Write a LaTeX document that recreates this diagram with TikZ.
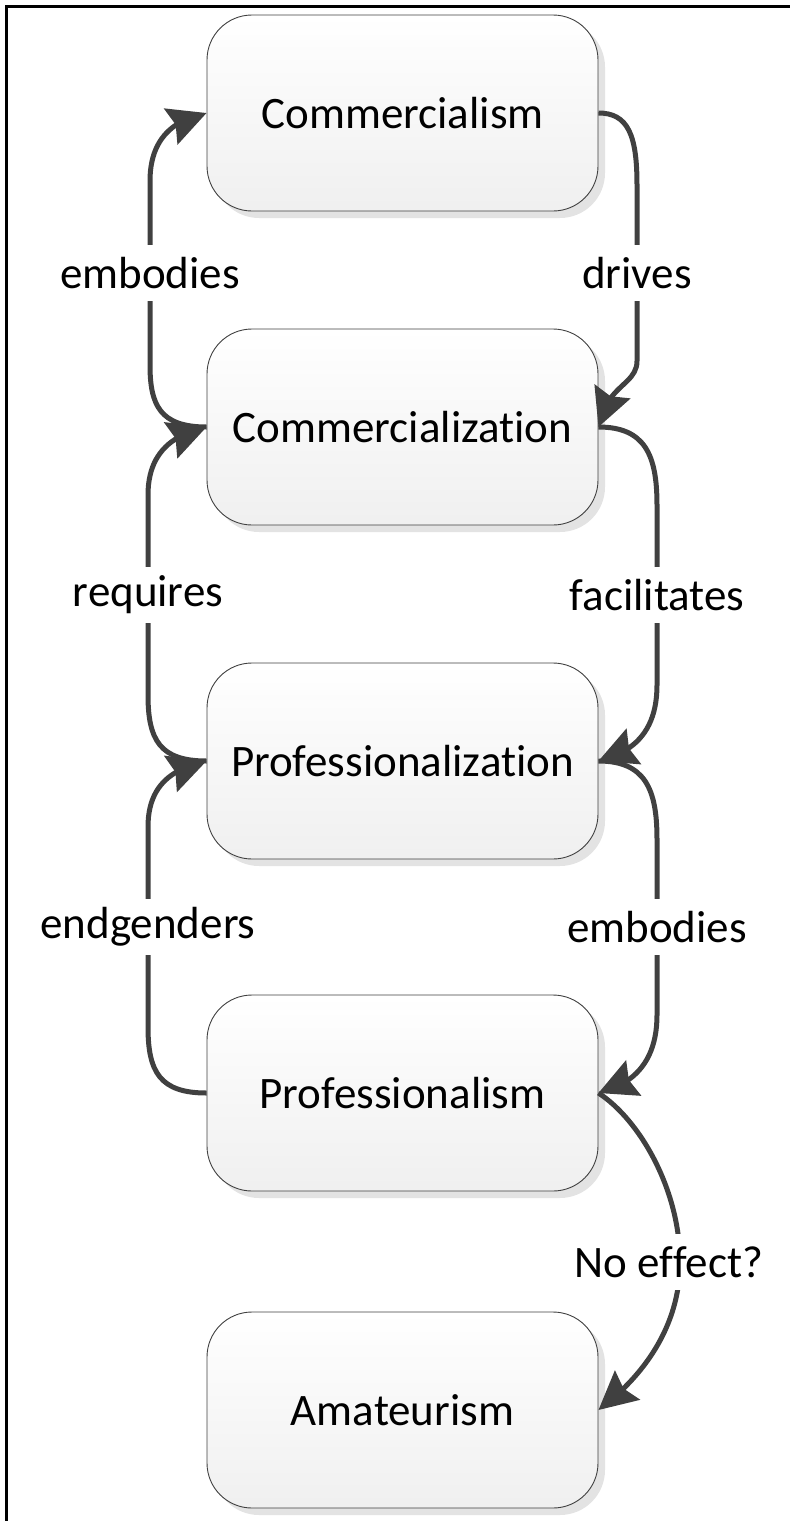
\documentclass[tikz,border=0pt]{standalone}
\usepackage{fontspec}
\setmainfont{Carlito}[RawFeature=-liga]
\usetikzlibrary{arrows.meta,bending,shadows}
\definecolor{connc}{HTML}{404040}
\begin{document}
\begin{tikzpicture}[x=1pt,y=-1pt,
  box/.style={draw=black!75, line width=0.9pt, rounded corners=45pt,
    minimum width=391pt, minimum height=196pt, top color=white, bottom color=black!6,
    drop shadow={shadow xshift=7pt, shadow yshift=-7pt, fill=black!11, opacity=1},
    font=\fontsize{45}{53}\selectfont},
  lbl/.style={fill=white, inner xsep=3pt, minimum height=56pt, font=\fontsize{45}{53}\selectfont},
  conn/.style={draw=connc, line width=5pt, -{Stealth[length=38pt,width=38pt,inset=5pt,flex]}}]
\useasboundingbox (0,0) rectangle (790,1521);
\draw[line width=3pt] (6.5,1521) -- (6.5,6) -- (790,6);

\node[box] (b1) at (402.5,113) {Commercialism};
\node[box] (b2) at (402.5,427) {Commercialization};
\node[box] (b3) at (402.5,761) {Professionalization};
\node[box] (b4) at (402.5,1093) {Professionalism};
\node[box] (b5) at (402.5,1410) {Amateurism};

% left side
\draw[conn] (b2.west) .. controls (160,427) and (150,405) .. (150,365) -- node[lbl]{embodies} (150,181) .. controls (150,140) and (172,120) .. (b1.west);
\draw[conn] (b3.west) .. controls (160,761) and (148,740) .. (148,695) -- node[lbl]{requires} (148,495) .. controls (148,455) and (170,435) .. (b2.west);
\draw[conn] (b4.west) .. controls (160,1093) and (148,1072) .. (148,1027) -- node[lbl]{endgenders} (148,827) .. controls (148,787) and (170,769) .. (b3.west);

% right side
\draw[conn] (b1.east) .. controls (628,113) and (637,135) .. (637,185) -- node[lbl]{drives} (637,361) .. controls (637,385) and (606,385) .. (b2.east);
\draw[conn] (b2.east) .. controls (645,427) and (657,455) .. (657,505) -- node[lbl]{facilitates} (657,685) .. controls (657,730) and (635,752) .. (b3.east);
\draw[conn] (b3.east) .. controls (645,761) and (657,789) .. (657,839) -- node[lbl]{embodies} (657,1015) .. controls (657,1060) and (635,1084) .. (b4.east);
\draw[conn] (b4.east) .. controls (640,1120) and (680,1190) .. (680,1262) node[lbl,xshift=-11pt]{No effect?} .. controls (680,1325) and (645,1375) .. (b5.east);
\end{tikzpicture}
\end{document}
